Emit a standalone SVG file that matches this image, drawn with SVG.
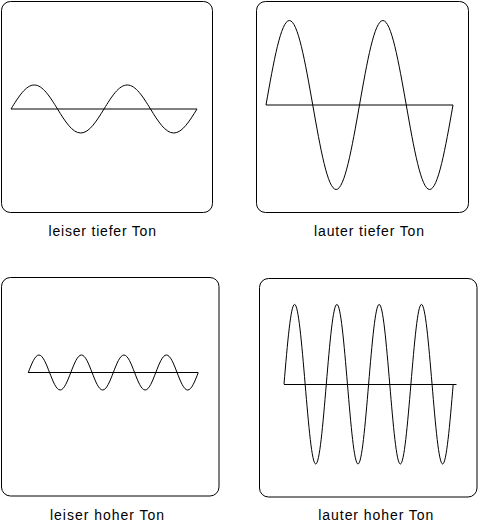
<svg xmlns="http://www.w3.org/2000/svg" width="478" height="524" viewBox="0 0 478 524">
<style>
.box{fill:none;stroke:#000;stroke-width:1}
.axis{fill:none;stroke:#000;stroke-width:1}
.wave{fill:none;stroke:#000;stroke-width:1}
.lbl{font-family:"Liberation Sans",Arial,sans-serif;font-size:14px;fill:#000}
</style>
<rect width="478" height="524" fill="#fff"/>
<g id="leiser-tiefer">
<rect class="box" x="1.5" y="1.5" width="211" height="211" rx="9"/>
<line class="axis" x1="11" y1="109" x2="197" y2="109"/>
<path class="wave" d="M11,109 c7.58,-12.3 14.84,-24 23.25,-24 c8.41,0 15.67,11.7 23.25,24 c7.58,12.3 14.84,24 23.25,24 c8.41,0 15.67,-11.7 23.25,-24 c7.58,-12.3 14.84,-24 23.25,-24 c8.41,0 15.67,11.7 23.25,24 c7.58,12.3 14.84,24 23.25,24 c8.41,0 15.67,-11.7 23.25,-24"/>
<text class="lbl" x="48.5" y="235.5" textLength="107.5" lengthAdjust="spacing">leiser tiefer Ton</text>
</g>
<g id="lauter-tiefer">
<rect class="box" x="256.5" y="1.5" width="212" height="211" rx="9"/>
<line class="axis" x1="266" y1="105" x2="453" y2="105"/>
<path class="wave" d="M266,105 c7.62,-43.29 14.92,-84.5 23.375,-84.5 c8.46,0 15.75,41.21 23.375,84.5 c7.62,43.29 14.92,84.5 23.375,84.5 c8.46,0 15.75,-41.21 23.375,-84.5 c7.62,-43.29 14.92,-84.5 23.375,-84.5 c8.46,0 15.75,41.21 23.375,84.5 c7.62,43.29 14.92,84.5 23.375,84.5 c8.46,0 15.75,-41.21 23.375,-84.5"/>
<text class="lbl" x="314" y="235.5" textLength="110" lengthAdjust="spacing">lauter tiefer Ton</text>
</g>
<g id="leiser-hoher">
<rect class="box" x="1.5" y="277.5" width="217.5" height="218.5" rx="9"/>
<line class="axis" x1="28" y1="372.5" x2="198" y2="372.5"/>
<path class="wave" d="M28.3,372.5 c3.46,-8.97 6.78,-17.5 10.625,-17.5 c3.85,0 7.16,8.53 10.625,17.5 c3.46,8.97 6.78,17.5 10.625,17.5 c3.85,0 7.16,-8.53 10.625,-17.5 c3.46,-8.97 6.78,-17.5 10.625,-17.5 c3.85,0 7.16,8.53 10.625,17.5 c3.46,8.97 6.78,17.5 10.625,17.5 c3.85,0 7.16,-8.53 10.625,-17.5 c3.46,-8.97 6.78,-17.5 10.625,-17.5 c3.85,0 7.16,8.53 10.625,17.5 c3.46,8.97 6.78,17.5 10.625,17.5 c3.85,0 7.16,-8.53 10.625,-17.5 c3.46,-8.97 6.78,-17.5 10.625,-17.5 c3.85,0 7.16,8.53 10.625,17.5 c3.46,8.97 6.78,17.5 10.625,17.5 c3.85,0 7.16,-8.53 10.625,-17.5"/>
<text class="lbl" x="50" y="519.5" textLength="114" lengthAdjust="spacing">leiser hoher Ton</text>
</g>
<g id="lauter-hoher">
<rect class="box" x="259.5" y="278.5" width="217.5" height="218.5" rx="9"/>
<line class="axis" x1="284" y1="384.5" x2="456.5" y2="384.5"/>
<path class="wave" d="M284,384.2 c3.45,-40.88 6.75,-79.8 10.575,-79.8 c3.83,0 7.13,38.92 10.575,79.8 c3.45,40.88 6.75,79.8 10.575,79.8 c3.83,0 7.13,-38.92 10.575,-79.8 c3.45,-40.88 6.75,-79.8 10.575,-79.8 c3.83,0 7.13,38.92 10.575,79.8 c3.45,40.88 6.75,79.8 10.575,79.8 c3.83,0 7.13,-38.92 10.575,-79.8 c3.45,-40.88 6.75,-79.8 10.575,-79.8 c3.83,0 7.13,38.92 10.575,79.8 c3.45,40.88 6.75,79.8 10.575,79.8 c3.83,0 7.13,-38.92 10.575,-79.8 c3.45,-40.88 6.75,-79.8 10.575,-79.8 c3.83,0 7.13,38.92 10.575,79.8 c3.45,40.88 6.75,79.8 10.575,79.8 c3.83,0 7.13,-38.92 10.575,-79.8"/>
<text class="lbl" x="318.3" y="520" textLength="115" lengthAdjust="spacing">lauter hoher Ton</text>
</g>
</svg>
